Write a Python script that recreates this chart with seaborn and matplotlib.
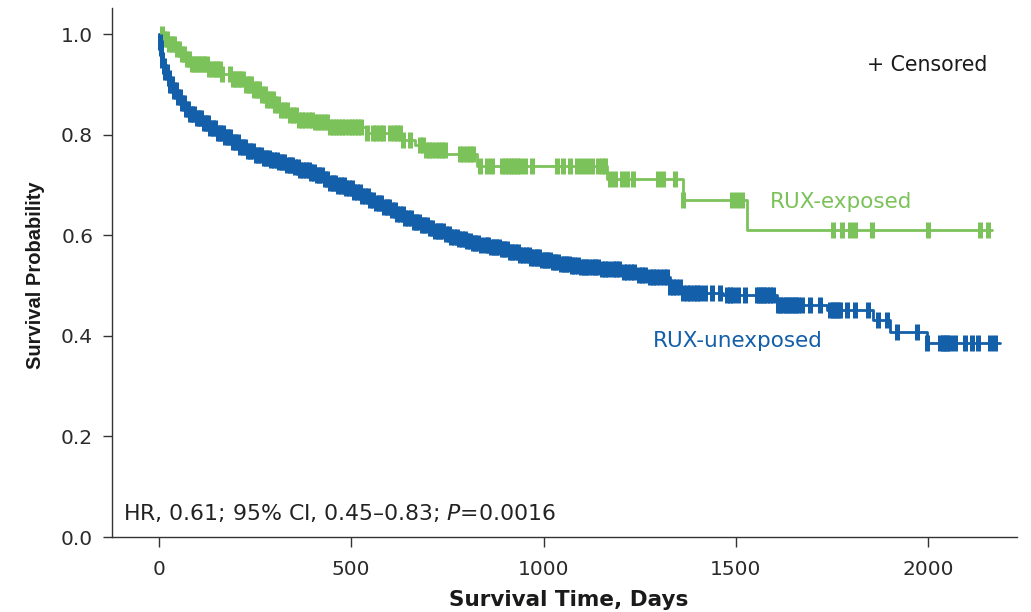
import numpy as np
import pandas as pd
import matplotlib
matplotlib.use("Agg")
import matplotlib.pyplot as plt
import seaborn as sns

# ---- Kaplan-Meier step data (day of event, survival after the event) ----
exposed_days = [0, 12, 25, 42, 58, 70, 85, 130, 160, 190, 225, 245, 262, 280,
                300, 318, 340, 360, 400, 445, 540, 630, 665, 690, 745, 826,
                1165, 1363, 1529]
exposed_surv = [1.0, 0.99, 0.98, 0.97, 0.96, 0.95, 0.94, 0.93, 0.92, 0.91,
                0.90, 0.89, 0.88, 0.87, 0.86, 0.85, 0.84, 0.83, 0.825, 0.815,
                0.803, 0.79, 0.78, 0.77, 0.762, 0.738, 0.712, 0.67, 0.61]
exposed_last_day = 2166

unexposed_days = [0, 1, 3, 6, 9, 13, 17, 22, 28, 36, 45, 55, 66, 80, 95, 112,
                  130, 150, 172, 190, 211, 232, 250, 270, 289, 310, 328, 350,
                  367, 390, 406, 425, 445, 465, 484, 505, 523, 545, 562, 580,
                  601, 620, 640, 660, 679, 700, 718, 740, 757, 780, 796, 815,
                  835, 860, 887, 912, 939, 965, 991, 1020, 1043, 1070, 1095,
                  1147, 1199, 1240, 1277, 1329, 1363, 1467, 1607, 1737, 1857,
                  1901, 1997]
unexposed_surv = [1.0, 0.985, 0.972, 0.96, 0.948, 0.936, 0.924, 0.912, 0.9,
                  0.888, 0.875, 0.863, 0.852, 0.842, 0.833, 0.823, 0.813,
                  0.804, 0.795, 0.785, 0.775, 0.767, 0.759, 0.754, 0.75, 0.745,
                  0.74, 0.735, 0.73, 0.725, 0.72, 0.712, 0.704, 0.699, 0.694,
                  0.686, 0.678, 0.671, 0.664, 0.657, 0.65, 0.642, 0.634, 0.627,
                  0.62, 0.614, 0.608, 0.602, 0.596, 0.592, 0.588, 0.584, 0.58,
                  0.577, 0.573, 0.567, 0.561, 0.556, 0.551, 0.547, 0.543, 0.54,
                  0.537, 0.533, 0.527, 0.521, 0.517, 0.497, 0.485, 0.481, 0.461,
                  0.451, 0.431, 0.408, 0.386]
unexposed_last_day = 2187

# ---- censoring times (days) ----
exposed_censored = [8, 14, 20, 27, 33, 40, 47, 53, 60, 66, 73, 79, 86, 92, 99,
                    105, 112, 118, 125, 131, 138, 145, 152, 158, 165, 185, 192,
                    198, 205, 212, 219, 226, 233, 240, 247, 254, 261, 268, 275,
                    282, 289, 296, 303, 310, 318, 326, 333, 341, 349, 357, 365,
                    373, 381, 389, 397, 405, 413, 421, 429, 437, 445, 453, 461,
                    469, 477, 485, 493, 501, 509, 517, 525, 541, 557, 565, 575,
                    583, 601, 610, 618, 627, 635, 653, 679, 687, 695, 703, 711,
                    720, 728, 736, 744, 783, 791, 800, 808, 817, 835, 853, 866,
                    892, 900, 908, 916, 924, 931, 939, 952, 970, 1035, 1051,
                    1069, 1087, 1100, 1113, 1126, 1142, 1152, 1160, 1173, 1186,
                    1204, 1217, 1233, 1298, 1311, 1342, 1363, 1490, 1503, 1516,
                    1753, 1776, 1797, 1810, 1854, 2000, 2135, 2156]

unexposed_censored = [2, 5, 9, 13, 17, 21, 25, 30, 34, 39, 44, 49, 54, 59, 64,
                      70, 75, 81, 86, 92, 98, 104, 110, 116, 122, 128, 134, 141,
                      147, 153, 160, 166, 173, 179, 186, 192, 199, 205, 212, 218,
                      225, 232, 238, 245, 252, 258, 265, 272, 279, 285, 292, 299,
                      306, 313, 320, 326, 333, 340, 347, 354, 361, 368, 375, 382,
                      389, 396, 403, 410, 417, 424, 431, 438, 445, 452, 459, 466,
                      473, 480, 487, 494, 501, 508, 515, 522, 529, 536, 543, 550,
                      557, 564, 571, 578, 585, 592, 599, 606, 613, 620, 627, 634,
                      641, 648, 655, 662, 669, 676, 683, 690, 697, 704, 711, 718,
                      725, 732, 739, 746, 753, 760, 767, 774, 781, 788, 795, 802,
                      809, 816, 823, 830, 837, 850, 856, 863, 870, 877, 884, 891,
                      898, 905, 912, 919, 926, 933, 940, 947, 954, 961, 968, 975,
                      982, 989, 996, 1003, 1010, 1017, 1024, 1031, 1038, 1045,
                      1052, 1059, 1066, 1073, 1080, 1090, 1097, 1104, 1111, 1118,
                      1128, 1135, 1142, 1152, 1160, 1168, 1180, 1188, 1196, 1208,
                      1216, 1228, 1236, 1248, 1256, 1264, 1277, 1285, 1293, 1303,
                      1312, 1320, 1329, 1337, 1345, 1355, 1363, 1372, 1381, 1390,
                      1399, 1407, 1420, 1438, 1459, 1477, 1485, 1493, 1506, 1524,
                      1555, 1561, 1568, 1574, 1581, 1588, 1597, 1610, 1616, 1623,
                      1630, 1636, 1643, 1649, 1656, 1662, 1672, 1693, 1719, 1745,
                      1752, 1758, 1765, 1771, 1789, 1810, 1844, 1870, 1893, 1919,
                      1971, 1997, 2031, 2038, 2044, 2050, 2057, 2070, 2096, 2114,
                      2130, 2161, 2174]

arm_names = ["RUX-exposed", "RUX-unexposed"]
arm_colors = {"RUX-exposed": "#7CC25A", "RUX-unexposed": "#135FA9"}
x_ticks = [0, 500, 1000, 1500, 2000]
y_ticks = [0.0, 0.2, 0.4, 0.6, 0.8, 1.0]
hr_text = "HR, 0.61; 95% CI, 0.45\u20130.83; $\\mathit{P}$=0.0016"


def step_frame(name, days, surv, last_day):
    d = list(days) + [last_day]
    s = list(surv) + [surv[-1]]
    return pd.DataFrame({"day": d, "surv": s, "arm": name})


def censor_frame(name, days, surv, cens):
    idx = np.searchsorted(np.asarray(days), np.asarray(cens), side="right") - 1
    return pd.DataFrame({"day": cens, "surv": np.asarray(surv)[idx], "arm": name})


steps = pd.concat([
    step_frame(arm_names[0], exposed_days, exposed_surv, exposed_last_day),
    step_frame(arm_names[1], unexposed_days, unexposed_surv, unexposed_last_day),
], ignore_index=True)
marks = pd.concat([
    censor_frame(arm_names[0], exposed_days, exposed_surv, exposed_censored),
    censor_frame(arm_names[1], unexposed_days, unexposed_surv, unexposed_censored),
], ignore_index=True)

sns.set_theme(style="ticks")
plt.rcParams["font.family"] = ["DejaVu Sans"]
plt.rcParams["mathtext.fontset"] = "dejavusans"

fig = plt.figure(figsize=(10.31, 6.12), dpi=100)
ax = fig.add_axes([0.1086, 0.1225, 0.8778, 0.8644])

sns.lineplot(data=steps, x="day", y="surv", hue="arm", palette=arm_colors,
             drawstyle="steps-post", estimator=None, sort=False,
             linewidth=2.0, legend=False, ax=ax)
sns.scatterplot(data=marks, x="day", y="surv", hue="arm", palette=arm_colors,
                marker="|", s=135, linewidth=3.6, legend=False, ax=ax, zorder=3)

ax.set_xlim(-122, 2231)
ax.set_ylim(0, 1.052)
ax.set_xticks(x_ticks)
ax.set_xticklabels([str(v) for v in x_ticks])
ax.set_yticks(y_ticks)
ax.set_yticklabels([f"{v:.1f}" for v in y_ticks])

for side in ("top", "right"):
    ax.spines[side].set_visible(False)
for side in ("left", "bottom"):
    ax.spines[side].set_color("#333333")
    ax.spines[side].set_linewidth(1.0)

ax.tick_params(axis="x", length=7.2, width=1, color="#333333", pad=9,
               labelsize=14.5, labelcolor="#2b2b2b")
ax.tick_params(axis="y", length=6.5, width=1, color="#333333", pad=7,
               labelsize=14.5, labelcolor="#2b2b2b")

ax.set_xlabel("Survival Time, Days", fontsize=15.5, fontweight="bold",
              color="#1a1a1a", va="center")
ax.xaxis.set_label_coords(0.505, -0.119)
ax.set_ylabel("Survival Probability", fontsize=14.5, fontweight="bold",
              color="#1a1a1a", va="center", family=["Liberation Sans"])
ax.yaxis.set_label_coords(-0.085, 0.495)

ax.text(1841, 0.926, "+ Censored", fontsize=14.8, color="#1a1a1a",
        ha="left", va="baseline")
ax.text(1589, 0.654, arm_names[0], fontsize=15.5, color=arm_colors[arm_names[0]],
        ha="left", va="baseline")
ax.text(1285, 0.378, arm_names[1], fontsize=15.5, color=arm_colors[arm_names[1]],
        ha="left", va="baseline")
ax.text(-94, 0.034, hr_text, fontsize=15.8, color="#222222",
        ha="left", va="baseline")

fig.savefig("out.png", dpi=100)
